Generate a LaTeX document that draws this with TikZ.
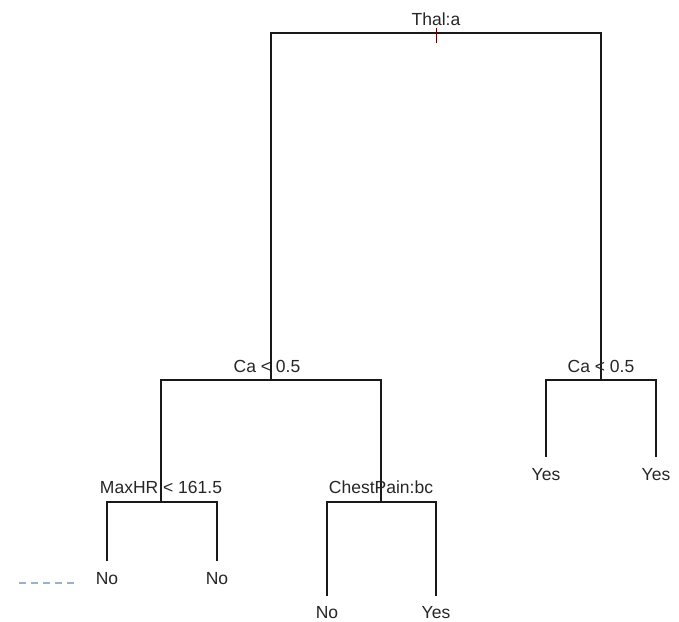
\documentclass[tikz,border=0pt]{standalone}
\usepackage{fontspec}
\setmainfont{Liberation Sans}
\usepackage{tikz}
\usetikzlibrary{arrows}

\begin{document}
\begin{tikzpicture}[x=1pt,y=-1pt,line cap=butt,line join=miter,
	branch/.style={line width=2pt,black!90},
	lbl/.style={anchor=base,inner sep=0pt,text=black!85,font=\fontsize{17.5}{20}\selectfont},
	splittick/.style={line width=0.9pt,red!40!black},
	guide/.style={line width=1.7pt,dash pattern=on 7pt off 5pt,color={rgb,255:red,150;green,178;blue,204}}]
	\useasboundingbox (0,0) rectangle (679,621);
	\coordinate (root) at (436,33);
	\coordinate (caL) at (271,380);
	\coordinate (caR) at (601,380);
	\coordinate (maxhr) at (161,502);
	\coordinate (chest) at (381,502);
	\coordinate (leafA) at (107,561);
	\coordinate (leafB) at (217,561);
	\coordinate (leafC) at (327,596);
	\coordinate (leafD) at (436,596);
	\coordinate (leafE) at (546,457);
	\coordinate (leafF) at (656,457);
	\coordinate (guideA) at (19,583);
	\coordinate (guideB) at (77,583);
	\draw [branch] (caL) |- (root) -| (caR);
	\draw [branch] (maxhr) |- (caL) -| (chest);
	\draw [branch] (leafE) |- (caR) -| (leafF);
	\draw [branch] (leafA) |- (maxhr) -| (leafB);
	\draw [branch] (leafC) |- (chest) -| (leafD);
	\draw [splittick] (root) ++(0,-5) -- ++(0,15);
	\draw [guide] (guideA) -- (guideB);
	\node [lbl] (thal) at (436,25) {Thal:a};
	\node [lbl] (caLlbl) at (267,372) {Ca < 0.5};
	\node [lbl] (caRlbl) at (601,372) {Ca < 0.5};
	\node [lbl] (maxhrlbl) at (161,493) {MaxHR < 161.5};
	\node [lbl] (chestlbl) at (381,493) {ChestPain:bc};
	\node [lbl] (noA) at (107,584) {No};
	\node [lbl] (noB) at (217,584) {No};
	\node [lbl] (noC) at (327,618) {No};
	\node [lbl] (yesD) at (436,618) {Yes};
	\node [lbl] (yesE) at (546,480) {Yes};
	\node [lbl] (yesF) at (656,480) {Yes};
\end{tikzpicture}
\end{document}
